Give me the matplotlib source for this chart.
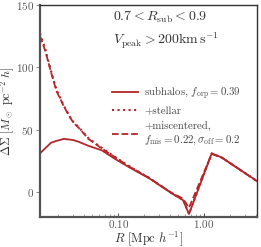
import numpy as np
import matplotlib
matplotlib.use('Agg')
import matplotlib.pyplot as plt
from matplotlib.ticker import FixedLocator, FixedFormatter, NullFormatter

plt.rcParams['mathtext.fontset'] = 'cm'
plt.rcParams['font.family'] = 'serif'
plt.rcParams['font.serif'] = ['cmr10', 'DejaVu Serif']
plt.rcParams['axes.formatter.use_mathtext'] = True

# radial bins [Mpc/h]
R = [0.0122, 0.0140, 0.0164, 0.0190, 0.0232, 0.0275, 0.030, 0.0345, 0.045,
     0.064, 0.092, 0.137, 0.23, 0.42, 0.569, 0.668, 1.23, 1.61, 4.15]

# Delta Sigma profiles
subhalos = [31, 35, 39.5, 41, 42.6, 42, 41.6, 40.3, 37, 33.5, 26.5, 19.5,
            11, -1, -6.4, -17.5, 31, 27.7, 8.8]
stellar = [127, 115, 97, 82, 69, 60, 56, 52, 43, 35.5, 28, 20.3,
           11.3, -0.8, -6.2, -17.3, 31, 27.7, 8.8]
miscentered = [125, 113.5, 96, 81, 68.5, 59.5, 55.5, 51.5, 42.5, 35, 27.8, 20.1,
               11.2, -0.6, -5.2, -12.5, 30.5, 27.6, 8.8]

color = '#b3262a'

fig = plt.figure(figsize=(2.61, 2.47), dpi=100)
ax = fig.add_axes([0.152, 0.121, 0.833, 0.860])

ax.plot(R, subhalos, color=color, lw=1.3, ls='-',
        label=r'subhalos, $f_{\rm orp}=0.39$')
ax.plot(R, stellar, color=color, lw=1.5, ls=':',
        label=r'+stellar')
ax.plot(R, miscentered, color=color, lw=1.3, ls='--',
        label='+miscentered,\n' + r'$f_{\rm mis}=0.22, \sigma_{\rm off}=0.2$')

ax.set_xscale('log')
ax.set_xlim(0.0121, 4.16)
ax.set_ylim(-20, 150)

ax.xaxis.set_major_locator(FixedLocator([0.1, 1.0]))
ax.xaxis.set_major_formatter(FixedFormatter([r'$0.10$', r'$1.00$']))
ax.xaxis.set_minor_formatter(NullFormatter())
ax.yaxis.set_major_locator(FixedLocator([0, 50, 100, 150]))
ax.yaxis.set_major_formatter(FixedFormatter([r'$0$', r'$50$', r'$100$', r'$150$']))

ax.tick_params(axis='x', which='major', direction='in', length=3, width=0.6,
               labelsize=8, colors='#333333', labelcolor='#555555', pad=0.5)
ax.tick_params(axis='x', which='minor', direction='in', length=2, width=0.5,
               colors='#777777')
ax.tick_params(axis='y', which='major', direction='out', length=3, width=0.6,
               labelsize=8, colors='#777777', labelcolor='#555555', pad=1)

for side in ['left', 'bottom']:
    ax.spines[side].set_linewidth(1.6)
    ax.spines[side].set_color('#555555')
for side in ['top', 'right']:
    ax.spines[side].set_linewidth(1.0)
    ax.spines[side].set_color('#333333')

ax.set_xlabel(r'$R\ [{\rm Mpc}\ h^{-1}]$', fontsize=9, color='#333333', va='baseline')
ax.set_ylabel(r'$\Delta\Sigma\ [M_\odot\ {\rm pc}^{-2}\ h]$', fontsize=8.7,
              color='#333333', va='center')
ax.xaxis.set_label_coords(0.5, -0.119)
ax.yaxis.set_label_coords(-0.145, 0.5)

ax.text(0.337, 0.942, r'$0.7 < R_{\rm sub} < 0.9$', transform=ax.transAxes,
        fontsize=10, color='#333333', va='center', ha='left')
ax.text(0.337, 0.834, r'$V_{\rm peak} > 200 {\rm km\,s^{-1}}$', transform=ax.transAxes,
        fontsize=10, color='#333333', va='center', ha='left')

leg = ax.legend(loc='upper left', bbox_to_anchor=(0.333, 0.625), frameon=False,
                fontsize=7.8, handlelength=2.4, handletextpad=0.55,
                labelspacing=0.45, borderpad=0, borderaxespad=0)
for t in leg.get_texts():
    t.set_color('#444444')

fig.savefig('out.png', dpi=100)
